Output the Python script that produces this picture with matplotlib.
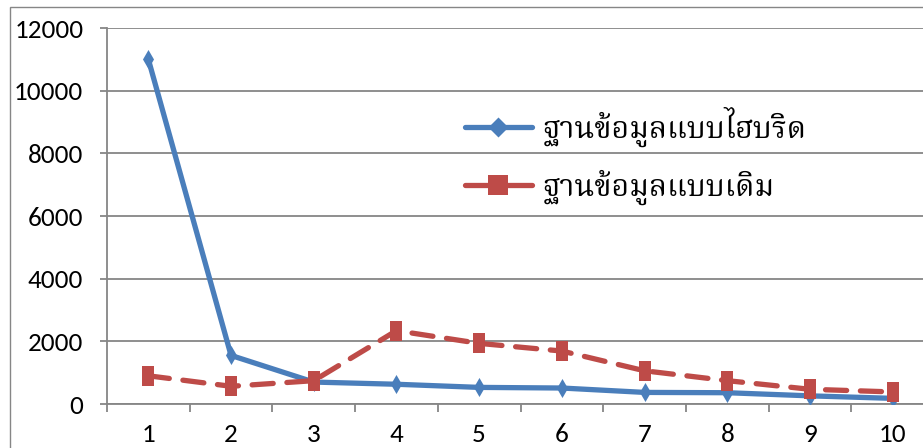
import matplotlib
matplotlib.use("Agg")
import matplotlib.pyplot as plt
from matplotlib import font_manager, ft2font
from matplotlib.lines import Line2D
from matplotlib.patches import Rectangle

# ── data ──────────────────────────────────────────────────────────────
categories = ["1", "2", "3", "4", "5", "6", "7", "8", "9", "10"]
hybrid_db = [11000, 1550, 700, 630, 530, 510, 370, 360, 260, 180]
classic_db = [900, 565, 745, 2340, 1935, 1690, 1060, 745, 470, 385]
label_hybrid = "ฐานข้อมูลแบบไฮบริด"
label_classic = "ฐานข้อมูลแบบเดิม"
y_ticks = [0, 2000, 4000, 6000, 8000, 10000, 12000]

BLUE = "#4A7EBB"
RED = "#BE4B48"
GRID = "#868686"


def pick_font(preferred, codepoint=None):
    names = {f.name for f in font_manager.fontManager.ttflist}
    for p in preferred:
        if p in names:
            return p
    if codepoint is not None:
        for f in font_manager.fontManager.ttflist:
            try:
                if codepoint in ft2font.FT2Font(f.fname).get_charmap():
                    return f.name
            except Exception:
                pass
    return "DejaVu Sans"


num_font = pick_font(["Carlito", "Lato", "Open Sans"])
thai_font = pick_font(["Norasi", "Kinnari", "Noto Serif Thai", "Noto Sans Thai",
                       "Laksaman", "Sarabun", "Garuda", "Loma", "Waree",
                       "Tahoma", "Leelawadee"], codepoint=0x0E10)

# narrow, tall markers as in the (stretched) original
diamond_tall = [(0, 1), (0.58, 0), (0, -1), (-0.58, 0), (0, 1)]
square_tall = [(-0.63, -1), (0.63, -1), (0.63, 1), (-0.63, 1), (-0.63, -1)]
diamond_leg = [(0, 1), (1, 0), (0, -1), (-1, 0), (0, 1)]

fig = plt.figure(figsize=(9.23, 4.48), dpi=100)
ax = fig.add_axes([107 / 923, 1 - 404 / 448, 827 / 923, 376 / 448])

x = list(range(1, len(categories) + 1))
ax.plot(x, hybrid_db, color=BLUE, lw=3.8, solid_capstyle="round",
        marker=diamond_tall, ms=13.7, mec=BLUE, mfc=BLUE, mew=0, zorder=3)
ax.plot(x, classic_db, color=RED, lw=3.8, ls=(0, (4, 2.6)), dash_capstyle="round",
        marker=square_tall, ms=13.7, mec=RED, mfc=RED, mew=0, zorder=4)

ax.set_xlim(0.5, len(categories) + 0.5)
ax.set_ylim(0, 12000)
ax.set_yticks(y_ticks)
ax.set_yticklabels([str(v) for v in y_ticks])
ax.set_xticks(x)
ax.set_xticklabels(categories)
ax.set_xticks([i + 0.5 for i in range(0, len(categories) + 1)], minor=True)

ax.grid(axis="y", color=GRID, lw=1.3)
ax.set_axisbelow(True)
for s in ["top", "right"]:
    ax.spines[s].set_visible(False)
for s in ["left", "bottom"]:
    ax.spines[s].set_color(GRID)
    ax.spines[s].set_linewidth(1.3)

ax.tick_params(axis="x", which="major", length=0, pad=14)
ax.tick_params(axis="x", which="minor", length=6, width=1.3, color=GRID, direction="out")
ax.tick_params(axis="y", length=5, width=1.3, color=GRID, pad=12)
for t in ax.get_xticklabels() + ax.get_yticklabels():
    t.set_fontfamily(num_font)
    t.set_fontsize(19.5)

handles = [
    Line2D([], [], color=BLUE, lw=3.8, solid_capstyle="round",
           marker=diamond_leg, ms=14.4, mfc=BLUE, mec=BLUE, mew=0),
    Line2D([], [], color=RED, lw=3.8, solid_capstyle="round",
           marker="s", ms=14.4, mfc=RED, mec=RED, mew=0),
]
ax.legend(handles, [label_hybrid, label_classic], loc="upper left",
          bbox_to_anchor=(0.433, 0.79), frameon=False, borderpad=0,
          borderaxespad=0, handlelength=2.2, handletextpad=0.35,
          labelspacing=0.75,
          prop={"family": [thai_font, "DejaVu Sans"], "size": 21.8})

# outer chart border (right/bottom edges fall outside the crop)
fig.add_artist(Rectangle((10 / 923, -0.1), 1.2, (448 - 7) / 448 + 0.1,
                         transform=fig.transFigure, fill=False,
                         ec=GRID, lw=1.0))

fig.savefig("out.png", dpi=100)
